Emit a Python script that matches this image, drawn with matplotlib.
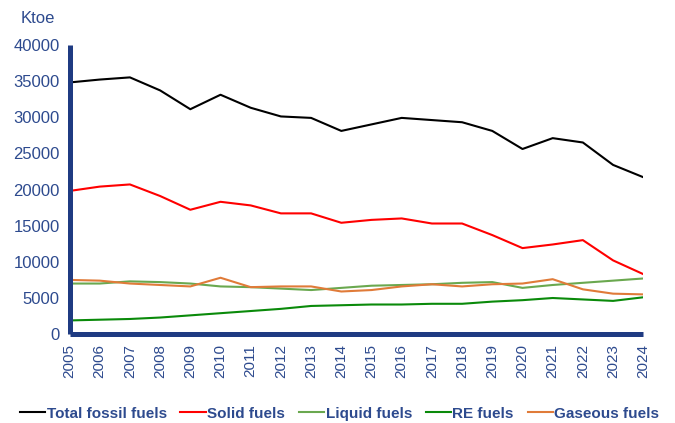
import matplotlib
matplotlib.use('Agg')
import matplotlib.pyplot as plt

plt.rcParams['font.family'] = ['Liberation Sans', 'DejaVu Sans']

years = list(range(2005, 2025))
total_fossil = [34800, 35200, 35500, 33700, 31100, 33100, 31300, 30100, 29900, 28100,
                29000, 29900, 29600, 29300, 28100, 25600, 27100, 26500, 23400, 21700]
solid = [19800, 20400, 20700, 19100, 17200, 18300, 17800, 16700, 16700, 15400,
         15800, 16000, 15300, 15300, 13700, 11900, 12400, 13000, 10200, 8300]
liquid = [7000, 7000, 7300, 7200, 7000, 6600, 6500, 6300, 6100, 6400,
          6700, 6800, 6900, 7100, 7200, 6400, 6800, 7100, 7400, 7700]
re_fuels = [1900, 2000, 2100, 2300, 2600, 2900, 3200, 3500, 3900, 4000,
            4100, 4100, 4200, 4200, 4500, 4700, 5000, 4800, 4600, 5100]
gaseous = [7500, 7400, 7000, 6800, 6600, 7800, 6500, 6600, 6600, 5900,
           6100, 6600, 6900, 6600, 6900, 7000, 7600, 6200, 5600, 5500]

navy = '#1f3b82'
text_col = '#2d4a8e'

fig = plt.figure(figsize=(6.75, 4.23), dpi=100)
ax = fig.add_axes([0.103, 0.21, 0.850, 0.684])

ax.plot(years, total_fossil, color='black', lw=1.5, label='Total fossil fuels')
ax.plot(years, solid, color='#ff0000', lw=1.5, label='Solid fuels')
ax.plot(years, liquid, color='#6aa84f', lw=1.5, label='Liquid fuels')
ax.plot(years, re_fuels, color='#0a8a0a', lw=1.5, label='RE fuels')
ax.plot(years, gaseous, color='#e07b39', lw=1.5, label='Gaseous fuels')

ax.set_xlim(2005, 2024)
ax.set_ylim(0, 40000)
ax.set_yticks(range(0, 40001, 5000))
ax.set_xticks(years)
ax.set_xticklabels([str(y) for y in years], rotation=90)

for s in ['top', 'right']:
    ax.spines[s].set_visible(False)
for s in ['left', 'bottom']:
    ax.spines[s].set_color(navy)
    ax.spines[s].set_linewidth(3.6)
    ax.spines[s].set_capstyle('butt')

ax.tick_params(length=0, colors=text_col, pad=7)
ax.tick_params(axis='y', labelsize=12)
ax.tick_params(axis='x', labelsize=11)

fig.text(0.031, 0.957, 'Ktoe', color=text_col, fontsize=12, va='center', ha='left')

fig.legend(loc='center', bbox_to_anchor=(0.503, 0.022), ncol=5, frameon=False,
           handlelength=1.65, handletextpad=0.1, columnspacing=0.9,
           prop={'weight': 'bold', 'size': 11}, labelcolor=text_col)

fig.savefig('out.png', dpi=100)
